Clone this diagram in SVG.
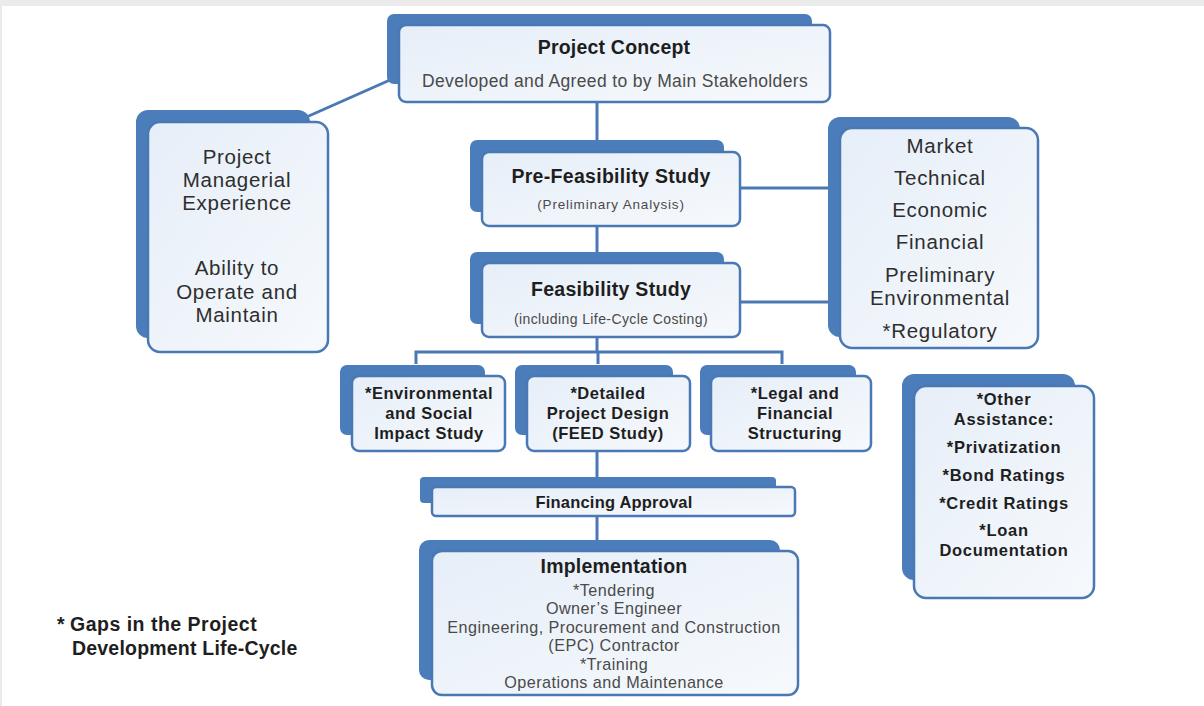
<svg xmlns="http://www.w3.org/2000/svg" width="1204" height="706" viewBox="0 0 1204 706">
<defs>
<linearGradient id="fillg" x1="0" y1="0" x2="1" y2="1">
<stop offset="0" stop-color="#e6eef8"/>
<stop offset="1" stop-color="#f6f9fc"/>
</linearGradient>
<style>
.sh{fill:#4b7dbb}
.bx{fill:url(#fillg);stroke:#4a78b5;stroke-width:2.5}
.ln{stroke:#4a78b5;stroke-width:3;fill:none}
text{font-family:"Liberation Sans","Arial",sans-serif;text-anchor:middle;fill:#2e2e2e}
.b{font-weight:bold;fill:#1e1e1e}
.g{fill:#4a4a4a}
.big{font-size:20.5px;letter-spacing:0.7px}
.sm{font-size:16.5px;letter-spacing:0.5px}
.impl{font-size:16.2px;letter-spacing:0.45px}
</style>
</defs>
<rect x="0" y="0" width="1204" height="706" fill="#ebebeb"/>
<rect x="2" y="6" width="1202" height="700" fill="#ffffff"/>

<g id="connectors">
<line class="ln" x1="390" y1="80" x2="302" y2="119"/>
<line class="ln" x1="597" y1="102" x2="597" y2="152"/>
<line class="ln" x1="597" y1="226" x2="597" y2="263"/>
<line class="ln" x1="597" y1="337" x2="597" y2="352"/>
<polyline class="ln" points="416,364 416,352 782,352 782,364"/>
<line class="ln" x1="598" y1="352" x2="598" y2="364"/>
<line class="ln" x1="597" y1="451" x2="597" y2="487"/>
<line class="ln" x1="597" y1="516" x2="597" y2="551"/>
<line class="ln" x1="740" y1="188" x2="830" y2="188"/>
<line class="ln" x1="740" y1="302" x2="830" y2="302"/>
</g>

<g id="project-concept">
<rect class="sh" x="387" y="14" width="425" height="70" rx="7"/>
<rect class="bx" x="399" y="25" width="431" height="77" rx="7"/>
<text class="b" x="614" y="54" font-size="19.5" letter-spacing="0.2">Project Concept</text>
<text class="g" x="615" y="87" font-size="17.5" letter-spacing="0.35">Developed and Agreed to by Main Stakeholders</text>
</g>

<g id="managerial">
<rect class="sh" x="136" y="110" width="174" height="228" rx="12"/>
<rect class="bx" x="148" y="122" width="180" height="230" rx="12"/>
<text class="big" x="237" y="164">Project</text>
<text class="big" x="237" y="187">Managerial</text>
<text class="big" x="237" y="210">Experience</text>
<text class="big" x="237" y="275">Ability to</text>
<text class="big" x="237" y="299">Operate and</text>
<text class="big" x="237" y="322">Maintain</text>
</g>

<g id="pre-feasibility">
<rect class="sh" x="470" y="140" width="254" height="72" rx="7"/>
<rect class="bx" x="482" y="152" width="258" height="74" rx="7"/>
<text class="b" x="611" y="183" font-size="19.5" letter-spacing="0.3">Pre-Feasibility Study</text>
<text class="g" x="611" y="209" font-size="13.5" letter-spacing="0.8">(Preliminary Analysis)</text>
</g>

<g id="feasibility">
<rect class="sh" x="470" y="252" width="254" height="72" rx="7"/>
<rect class="bx" x="482" y="263" width="258" height="74" rx="7"/>
<text class="b" x="611" y="296" font-size="19.5" letter-spacing="0.3">Feasibility Study</text>
<text class="g" x="611" y="324" font-size="14" letter-spacing="0.4">(including Life-Cycle Costing)</text>
</g>

<g id="studies">
<rect class="sh" x="828" y="117" width="192" height="220" rx="12"/>
<rect class="bx" x="840" y="128" width="198" height="220" rx="12"/>
<text class="big" x="940" y="153">Market</text>
<text class="big" x="940" y="185">Technical</text>
<text class="big" x="940" y="217">Economic</text>
<text class="big" x="940" y="249">Financial</text>
<text class="big" x="940" y="282">Preliminary</text>
<text class="big" x="940" y="305">Environmental</text>
<text class="big" x="940" y="338">*Regulatory</text>
</g>

<g id="environmental">
<rect class="sh" x="340" y="365" width="145" height="70" rx="7"/>
<rect class="bx" x="352" y="376" width="153" height="75" rx="7"/>
<text class="b sm" x="429" y="399">*Environmental</text>
<text class="b sm" x="429" y="419">and Social</text>
<text class="b sm" x="429" y="439">Impact Study</text>
</g>

<g id="detailed-design">
<rect class="sh" x="515" y="365" width="158" height="70" rx="7"/>
<rect class="bx" x="527" y="376" width="163" height="75" rx="7"/>
<text class="b sm" x="608" y="399">*Detailed</text>
<text class="b sm" x="608" y="419">Project Design</text>
<text class="b sm" x="608" y="439">(FEED Study)</text>
</g>

<g id="legal">
<rect class="sh" x="700" y="365" width="156" height="70" rx="7"/>
<rect class="bx" x="711" y="376" width="160" height="75" rx="7"/>
<text class="b sm" x="795" y="399">*Legal and</text>
<text class="b sm" x="795" y="419">Financial</text>
<text class="b sm" x="795" y="439">Structuring</text>
</g>

<g id="financing-approval">
<rect class="sh" x="420" y="477" width="356" height="26" rx="4"/>
<rect class="bx" x="432" y="487" width="363" height="29" rx="4"/>
<text class="b" x="614" y="508" font-size="16.5" letter-spacing="0.2">Financing Approval</text>
</g>

<g id="implementation">
<rect class="sh" x="419" y="540" width="361" height="140" rx="10"/>
<rect class="bx" x="432" y="551" width="366" height="144" rx="10"/>
<text class="b" x="614" y="573" font-size="19.5" letter-spacing="0.2">Implementation</text>
<text class="g impl" x="614" y="596">*Tendering</text>
<text class="g impl" x="614" y="614.4">Owner’s Engineer</text>
<text class="g impl" x="614" y="632.8">Engineering, Procurement and Construction</text>
<text class="g impl" x="614" y="651.2">(EPC) Contractor</text>
<text class="g impl" x="614" y="669.6">*Training</text>
<text class="g impl" x="614" y="688">Operations and Maintenance</text>
</g>

<g id="other-assistance">
<rect class="sh" x="902" y="374" width="173" height="206" rx="12"/>
<rect class="bx" x="914" y="386" width="180" height="212" rx="12"/>
<text class="b" x="1004" y="405" font-size="16.5" letter-spacing="0.7">*Other</text>
<text class="b" x="1004" y="425" font-size="16.5" letter-spacing="0.7">Assistance:</text>
<text class="b" x="1004" y="453" font-size="16.5" letter-spacing="0.7">*Privatization</text>
<text class="b" x="1004" y="481" font-size="16.5" letter-spacing="0.7">*Bond Ratings</text>
<text class="b" x="1004" y="509" font-size="16.5" letter-spacing="0.7">*Credit Ratings</text>
<text class="b" x="1004" y="536" font-size="16.5" letter-spacing="0.7">*Loan</text>
<text class="b" x="1004" y="556" font-size="16.5" letter-spacing="0.7">Documentation</text>
</g>

<g id="legend">
<text class="b" x="57" y="631" font-size="19.5" letter-spacing="0.5" style="text-anchor:start">*<tspan x="70">Gaps in the Project</tspan></text>
<text class="b" x="72" y="655" font-size="19.5" letter-spacing="0.2" style="text-anchor:start">Development Life-Cycle</text>
</g>
</svg>
